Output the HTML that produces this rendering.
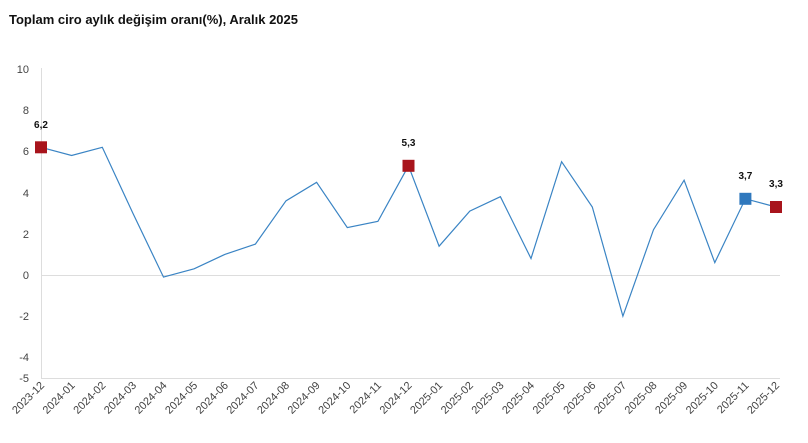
<!DOCTYPE html>
<html><head><meta charset="utf-8"><style>
body{margin:0;background:#fff;width:808px;height:438px;overflow:hidden;font-family:"Liberation Sans",sans-serif}
</style></head><body>
<svg width="808" height="438" xmlns="http://www.w3.org/2000/svg" font-family="Liberation Sans, sans-serif">
<text x="9" y="24" font-size="13" font-weight="bold" fill="#111">Toplam ciro aylık değişim oranı(%), Aralık 2025</text>
<line x1="41.5" y1="68" x2="41.5" y2="378" stroke="#ddd"/>
<line x1="41" y1="275.5" x2="780" y2="275.5" stroke="#ddd"/>
<line x1="41" y1="378.5" x2="780" y2="378.5" stroke="#ddd"/>
<g font-size="11" fill="#444" text-anchor="end">
<text x="29" y="73">10</text><text x="29" y="114">8</text><text x="29" y="155">6</text><text x="29" y="197">4</text><text x="29" y="238">2</text><text x="29" y="279">0</text><text x="29" y="320">-2</text><text x="29" y="361">-4</text><text x="29" y="382">-5</text>
</g>
<polyline fill="none" stroke="#3a84c4" stroke-width="1.2" points="
41,147.3 71.6,155.5 102.3,147.3 132.9,213.2 163.5,277.1 194.1,268.8 224.8,254.4 255.4,244.1 286,200.8 316.6,182.3 347.3,227.6 377.9,221.4 408.5,165.8 439.1,246.2 469.8,211.1 500.4,196.7 531,258.5 561.6,161.7 592.3,207 622.9,316.2 653.5,229.7 684.1,180.2 714.8,262.6 745.4,198.8 776,207"/>
<rect x="35" y="141.3" width="12" height="12" fill="#a8141c"/>
<rect x="402.5" y="159.8" width="12" height="12" fill="#a8141c"/>
<rect x="739.4" y="192.8" width="12" height="12" fill="#2f78bd"/>
<rect x="770" y="201" width="12" height="12" fill="#a8141c"/>
<g font-size="10" font-weight="bold" fill="#111" text-anchor="middle">
<text x="41" y="128">6,2</text><text x="408.5" y="146">5,3</text><text x="745.4" y="179">3,7</text><text x="776" y="187">3,3</text>
</g>
<g font-size="11" fill="#444" text-anchor="end">
<text transform="translate(45,386) rotate(-45)">2023-12</text>
<text transform="translate(75.6,386) rotate(-45)">2024-01</text>
<text transform="translate(106.3,386) rotate(-45)">2024-02</text>
<text transform="translate(136.9,386) rotate(-45)">2024-03</text>
<text transform="translate(167.5,386) rotate(-45)">2024-04</text>
<text transform="translate(198.1,386) rotate(-45)">2024-05</text>
<text transform="translate(228.8,386) rotate(-45)">2024-06</text>
<text transform="translate(259.4,386) rotate(-45)">2024-07</text>
<text transform="translate(290,386) rotate(-45)">2024-08</text>
<text transform="translate(320.6,386) rotate(-45)">2024-09</text>
<text transform="translate(351.3,386) rotate(-45)">2024-10</text>
<text transform="translate(381.9,386) rotate(-45)">2024-11</text>
<text transform="translate(412.5,386) rotate(-45)">2024-12</text>
<text transform="translate(443.1,386) rotate(-45)">2025-01</text>
<text transform="translate(473.8,386) rotate(-45)">2025-02</text>
<text transform="translate(504.4,386) rotate(-45)">2025-03</text>
<text transform="translate(535,386) rotate(-45)">2025-04</text>
<text transform="translate(565.6,386) rotate(-45)">2025-05</text>
<text transform="translate(596.3,386) rotate(-45)">2025-06</text>
<text transform="translate(626.9,386) rotate(-45)">2025-07</text>
<text transform="translate(657.5,386) rotate(-45)">2025-08</text>
<text transform="translate(688.1,386) rotate(-45)">2025-09</text>
<text transform="translate(718.8,386) rotate(-45)">2025-10</text>
<text transform="translate(749.4,386) rotate(-45)">2025-11</text>
<text transform="translate(780,386) rotate(-45)">2025-12</text>
</g>
</svg>
</body></html>
